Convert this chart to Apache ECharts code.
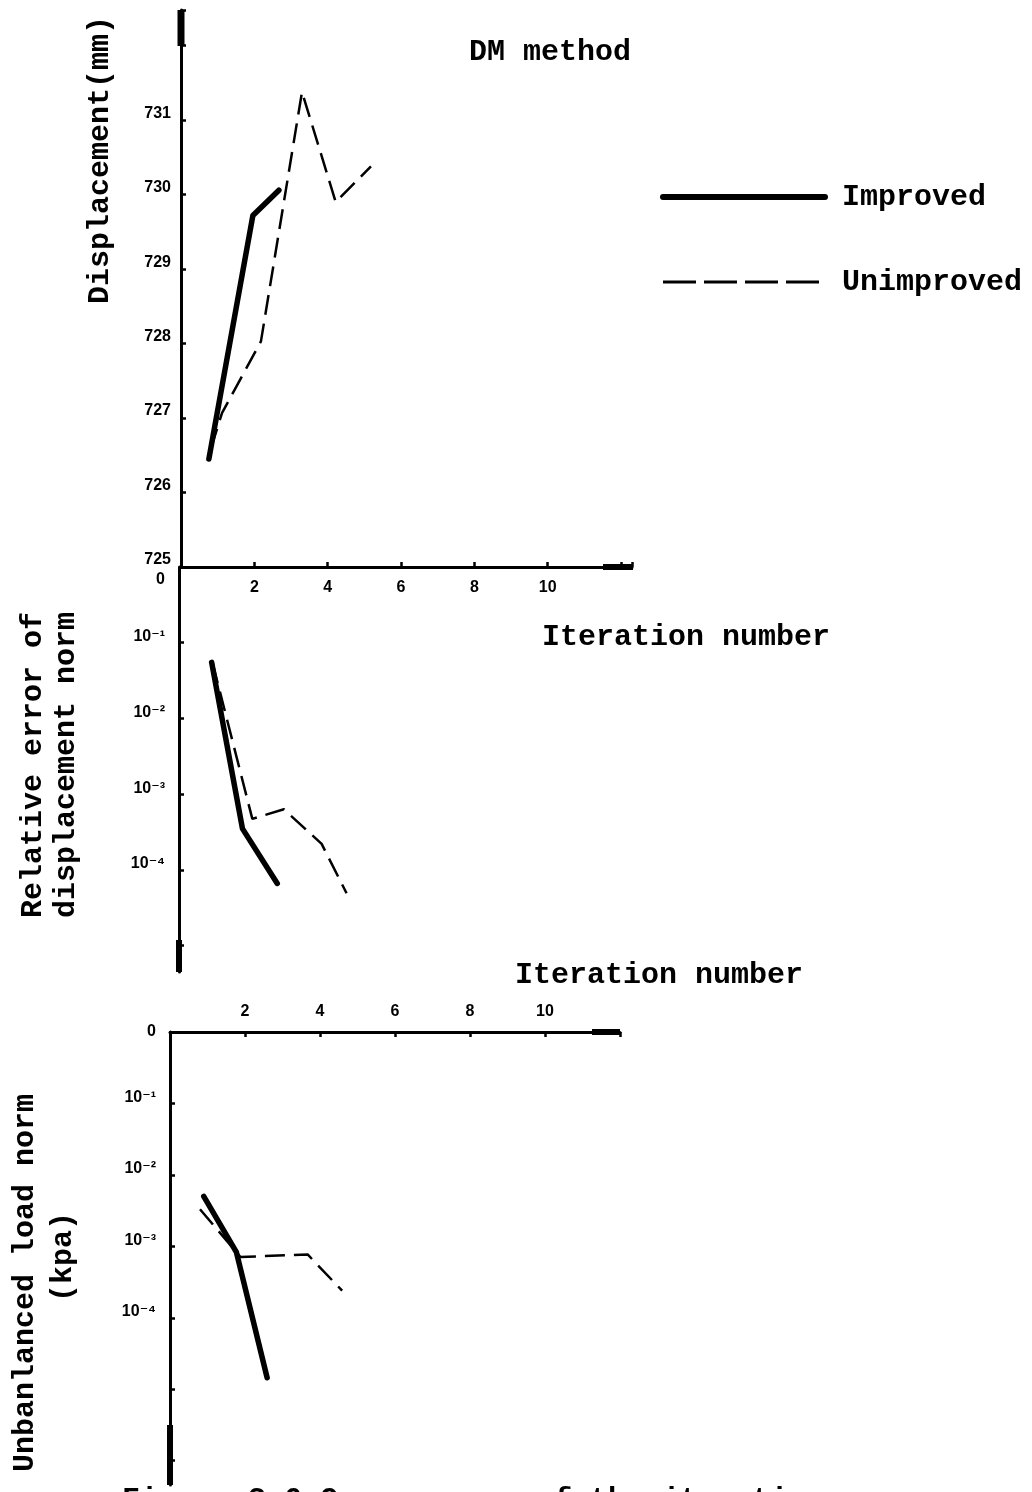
<!DOCTYPE html>
<html><head><meta charset="utf-8">
<script src="https://cdn.jsdelivr.net/npm/echarts@6/dist/echarts.min.js"></script>
<style>html,body{margin:0;padding:0;background:#fff}#c{width:1032px;height:1492px}</style>
</head><body><div id="c"></div>
<script>
// ---- data ----
const xTickValues = [2, 4, 6, 8, 10];
const dispTickValues = [725, 726, 727, 728, 729, 730, 731];
const logExponents = [-1, -2, -3, -4];
const logTickLabels = ['10⁻¹', '10⁻²', '10⁻³', '10⁻⁴'];

// panel 1: displacement (mm) vs iteration
const dispImproved = [[0.76, 726.45], [1.96, 729.72], [2.67, 730.06]];
const dispUnimproved = [[0.82, 726.6], [1.12, 727.07], [2.18, 728.03], [3.30, 731.38], [4.22, 729.9], [5.18, 730.38]];
// panel 2: relative error of displacement norm
const errImproved = [[0.89, 0.055], [1.73, 3.5e-4], [2.68, 6.6e-5]];
const errUnimproved = [[0.92, 0.053], [2.0, 4.7e-4], [2.86, 6.3e-4], [3.89, 2.2e-4], [4.57, 4.9e-5]];
// panel 3: unbalanced load norm (kpa)
const loadImproved = [[0.90, 5.0e-3], [1.77, 8.3e-4], [2.59, 1.45e-5]];
const loadUnimproved = [[0.80, 3.3e-3], [1.88, 7.1e-4], [3.67, 7.7e-4], [4.59, 2.4e-4]];

const MONO = '"Liberation Mono", "DejaVu Sans Mono", monospace';
const SANS = '"Liberation Sans", "DejaVu Sans", sans-serif';
const AX = { color: '#000', width: 3 };

function xFmt(v) { return xTickValues.indexOf(v) >= 0 ? String(v) : ''; }
function dispFmt(v) { return dispTickValues.indexOf(v) >= 0 ? '{a|' + v + '}' : ''; }
function logFmt(v) {
  const l = Math.log10(v); const e = Math.round(l);
  if (Math.abs(l - e) > 1e-6) return '';
  if (e === 0) return '{z|0}';
  const i = logExponents.indexOf(e);
  return i >= 0 ? '{a|' + logTickLabels[i] + '}' : '';
}
const lblBase = { color: '#000', fontFamily: SANS, fontWeight: 'bold', fontSize: 16 };
const TXT = 'bold 30px ' + MONO;

const improvedStyle = { color: '#000', width: 5.5, cap: 'round', join: 'round' };
const unimprovedStyle = { color: '#000', width: 2.5, type: [20, 9] };

const chart = echarts.init(document.getElementById('c'), null, { renderer: 'canvas' });
chart.setOption({
  backgroundColor: '#fff',
  animation: false,
  grid: [
    { left: 181, top: 10, width: 451, height: 557 },
    { left: 179, top: 567, width: 451, height: 405 },
    { left: 170, top: 1032, width: 450, height: 453 }
  ],
  xAxis: [
    { type: 'value', gridIndex: 0, min: 0, max: 12.3, interval: 2, position: 'bottom',
      axisLine: { lineStyle: AX, symbol: ['none', 'rect'], symbolSize: [6, 30], symbolOffset: [0, -14] },
      axisTick: { inside: true, length: 5, lineStyle: { color: '#000', width: 2.5 } },
      splitLine: { show: false },
      axisLabel: Object.assign({ margin: 13, formatter: xFmt }, lblBase) },
    { type: 'value', gridIndex: 1, min: 0, max: 12.3, show: false },
    { type: 'value', gridIndex: 2, min: 0, max: 12, interval: 2, position: 'top',
      axisLine: { lineStyle: AX, symbol: ['none', 'rect'], symbolSize: [6, 28], symbolOffset: [0, -14] },
      axisTick: { inside: true, length: 5, lineStyle: { color: '#000', width: 2.5 } },
      splitLine: { show: false },
      axisLabel: Object.assign({ margin: 12, formatter: xFmt }, lblBase) }
  ],
  yAxis: [
    { type: 'value', gridIndex: 0, min: 725, max: 732.48, interval: 1,
      axisLine: { lineStyle: AX, symbol: ['none', 'rect'], symbolSize: [7, 36], symbolOffset: [0, -18] },
      axisTick: { inside: true, length: 5, lineStyle: { color: '#000', width: 2.5 } },
      splitLine: { show: false },
      axisLabel: Object.assign({ margin: 10, formatter: dispFmt, verticalAlign: 'middle',
        rich: { a: Object.assign({ padding: [0, 0, 14, 0] }, lblBase) } }, lblBase) },
    { type: 'log', logBase: 10, gridIndex: 1, min: Math.pow(10, -5.35), max: 1,
      axisLine: { lineStyle: AX, symbol: ['rect', 'none'], symbolSize: [6, 32], symbolOffset: [16, 0] },
      axisTick: { inside: true, length: 5, lineStyle: { color: '#000', width: 2.5 } },
      splitLine: { show: false },
      axisLabel: Object.assign({ margin: 14, formatter: logFmt, verticalAlign: 'middle', showMinLabel: false,
        rich: { a: Object.assign({ padding: [0, 0, 12, 0] }, lblBase), z: Object.assign({ padding: [26, 0, 0, 0] }, lblBase) } }, lblBase) },
    { type: 'log', logBase: 10, gridIndex: 2, min: Math.pow(10, -6.34), max: 1,
      axisLine: { lineStyle: AX, symbol: ['rect', 'none'], symbolSize: [6, 60], symbolOffset: [30, 0] },
      axisTick: { inside: true, length: 5, lineStyle: { color: '#000', width: 2.5 } },
      splitLine: { show: false },
      axisLabel: Object.assign({ margin: 14, formatter: logFmt, verticalAlign: 'middle', showMinLabel: false,
        rich: { a: Object.assign({ padding: [0, 0, 12, 0] }, lblBase), z: Object.assign({ padding: [0, 0, 0, 0] }, lblBase) } }, lblBase) }
  ],
  legend: {
    orient: 'vertical', left: 660, top: 182, padding: 0, itemWidth: 162, itemHeight: 14, itemGap: 55,
    selectedMode: false,
    textStyle: { fontFamily: MONO, fontWeight: 'bold', fontSize: 30, color: '#000', padding: [0, 0, 0, 12] },
    data: [
      { name: 'Improved', lineStyle: { width: 6, type: 'solid', color: '#000' }, itemStyle: { color: 'rgba(0,0,0,0)', borderWidth: 0, opacity: 0 } },
      { name: 'Unimproved', lineStyle: { width: 3, type: [33, 8], color: '#000' }, itemStyle: { color: 'rgba(0,0,0,0)', borderWidth: 0, opacity: 0 } }
    ]
  },
  series: [
    { type: 'line', name: 'Improved', xAxisIndex: 0, yAxisIndex: 0, data: dispImproved, symbol: 'none', itemStyle: { color: '#000' }, lineStyle: improvedStyle, silent: true },
    { type: 'line', name: 'Unimproved', xAxisIndex: 0, yAxisIndex: 0, data: dispUnimproved, symbol: 'none', itemStyle: { color: '#000' }, lineStyle: unimprovedStyle, silent: true },
    { type: 'line', name: 'Improved', xAxisIndex: 1, yAxisIndex: 1, data: errImproved, symbol: 'none', itemStyle: { color: '#000' }, lineStyle: improvedStyle, silent: true },
    { type: 'line', name: 'Unimproved', xAxisIndex: 1, yAxisIndex: 1, data: errUnimproved, symbol: 'none', itemStyle: { color: '#000' }, lineStyle: unimprovedStyle, silent: true },
    { type: 'line', name: 'Improved', xAxisIndex: 2, yAxisIndex: 2, data: loadImproved, symbol: 'none', itemStyle: { color: '#000' }, lineStyle: improvedStyle, silent: true },
    { type: 'line', name: 'Unimproved', xAxisIndex: 2, yAxisIndex: 2, data: loadUnimproved, symbol: 'none', itemStyle: { color: '#000' }, lineStyle: unimprovedStyle, silent: true }
  ],
  graphic: [
    { type: 'text', x: 550, y: 52, style: { text: 'DM method', font: TXT, fill: '#000', align: 'center', verticalAlign: 'middle' } },
    { type: 'text', x: 686, y: 637, style: { text: 'Iteration number', font: TXT, fill: '#000', align: 'center', verticalAlign: 'middle' } },
    { type: 'text', x: 659, y: 975, style: { text: 'Iteration number', font: TXT, fill: '#000', align: 'center', verticalAlign: 'middle' } },
    { type: 'text', x: 100, y: 160, rotation: Math.PI / 2, style: { text: 'Displacement(mm)', font: TXT, fill: '#000', align: 'center', verticalAlign: 'middle' } },
    { type: 'text', x: 33, y: 765, rotation: Math.PI / 2, style: { text: 'Relative error of', font: TXT, fill: '#000', align: 'center', verticalAlign: 'middle' } },
    { type: 'text', x: 66, y: 765, rotation: Math.PI / 2, style: { text: 'displacement norm', font: TXT, fill: '#000', align: 'center', verticalAlign: 'middle' } },
    { type: 'text', x: 25, y: 1283, rotation: Math.PI / 2, style: { text: 'Unbanlanced load norm', font: TXT, fill: '#000', align: 'center', verticalAlign: 'middle' } },
    { type: 'text', x: 63, y: 1257, rotation: Math.PI / 2, style: { text: '(kpa)', font: TXT, fill: '#000', align: 'center', verticalAlign: 'middle' } },
    { type: 'text', x: 122, y: 1485, style: { text: 'Figure 3.6 Convergence of the iterations', font: TXT, fill: '#000', align: 'left', verticalAlign: 'top' } }
  ]
});
</script></body></html>
